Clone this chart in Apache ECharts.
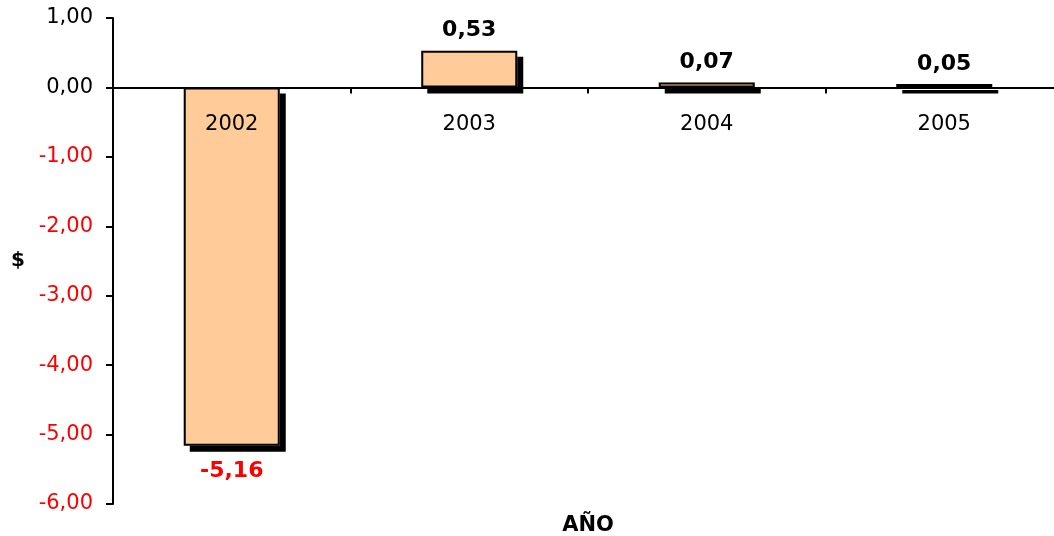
<!DOCTYPE html>
<html>
<head>
<meta charset="utf-8">
<script src="https://cdn.jsdelivr.net/npm/echarts@6/dist/echarts.min.js"></script>
<style>
html,body{margin:0;padding:0;background:#fff;}
#chart{width:1054px;height:536px;}
</style>
</head>
<body>
<div id="chart"></div>
<script>
const categories = ['2002', '2003', '2004', '2005'];
const values = [-5.16, 0.53, 0.07, 0.05];
const yMin = -6, yMax = 1, yStep = 1;
const xTitle = 'AÑO';
const yTitle = '$';

const fmt = v => v.toFixed(2).replace('.', ',');
const FONT = 'DejaVu Sans';
const GRID_H = 486;
const zeroOffset = -GRID_H * (0 - yMin) / (yMax - yMin);

const chart = echarts.init(document.getElementById('chart'), null, {renderer: 'canvas'});
chart.setOption({
  animation: false,
  backgroundColor: '#ffffff',
  grid: {left: 113, top: 18, width: 950, height: GRID_H, containLabel: false, outerBoundsMode: 'none'},
  xAxis: {
    type: 'category',
    data: categories,
    z: 3,
    position: 'bottom',
    offset: zeroOffset,
    name: xTitle,
    nameLocation: 'middle',
    nameGap: 428,
    nameTextStyle: {fontFamily: FONT, fontSize: 21, fontWeight: 'bold', color: '#000'},
    axisLine: {onZero: false, lineStyle: {color: '#000', width: 2}},
    axisTick: {show: true, length: 6, lineStyle: {color: '#000', width: 2}},
    axisLabel: {margin: 27, fontFamily: FONT, fontSize: 21, color: '#000'}
  },
  yAxis: {
    type: 'value',
    min: yMin, max: yMax, interval: yStep,
    name: yTitle,
    nameLocation: 'middle',
    nameRotate: 0,
    nameGap: 88,
    nameTextStyle: {fontFamily: FONT, fontSize: 20, fontWeight: 'bold', color: '#000'},
    axisLine: {show: true, lineStyle: {color: '#000', width: 2}},
    axisTick: {show: true, length: 7, lineStyle: {color: '#000', width: 2}},
    splitLine: {show: false},
    axisLabel: {
      margin: 20, fontFamily: FONT, fontSize: 21,
      formatter: v => fmt(v),
      color: v => (Number(v) < 0 ? '#ff0000' : '#000000')
    }
  },
  series: [{
    type: 'bar',
    barWidth: 96,
    z: 2,
    data: values,
    itemStyle: {
      color: '#FFCC99',
      borderWidth: 0,
      shadowColor: '#000',
      shadowBlur: 0,
      shadowOffsetX: 6,
      shadowOffsetY: 6
    }
  }, {
    type: 'bar',
    barWidth: 96,
    barGap: '-100%',
    z: 2,
    data: values.map(v => ({
      value: v,
      label: {
        show: true,
        position: v < 0 ? 'bottom' : 'top',
        distance: v < 0 ? 15 : 9,
        formatter: p => fmt(p.value),
        fontFamily: FONT, fontSize: 22, fontWeight: 'bold',
        color: v < 0 ? '#ff0000' : '#000000'
      }
    })),
    itemStyle: {
      color: 'rgba(0,0,0,0)',
      borderColor: '#000',
      borderWidth: 2
    }
  }]
});
</script>
</body>
</html>
